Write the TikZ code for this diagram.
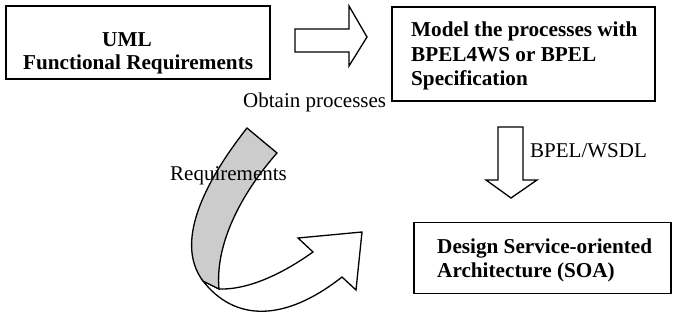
\documentclass[tikz,border=0pt]{standalone}
\usepackage{fontspec}
\setmainfont{Liberation Serif}
\begin{document}
\begin{tikzpicture}[x=1pt,y=-1pt,
  boxstyle/.style={draw=black,line width=1.6pt,inner sep=0pt,fill=white},
  blockarrow/.style={draw=black,line width=1.3pt,line join=miter,fill=white},
  bandstyle/.style={draw=black,line width=1.3pt,fill=black!20},
  boldtxt/.style={inner sep=0pt,anchor=base west,font=\fontsize{21.2}{24.5}\selectfont\bfseries},
  plaintxt/.style={inner sep=0pt,anchor=base west,font=\fontsize{21}{24}\selectfont}]
\useasboundingbox (0,0) rectangle (673,320);
% boxes
\node[boxstyle,minimum width=264pt,minimum height=73pt] (uml) at (138,42.5) {};
\node[boxstyle,minimum width=263pt,minimum height=94pt] (bpel) at (523.5,54) {};
\node[boxstyle,minimum width=257pt,minimum height=71pt] (soa) at (542.5,258) {};
% box texts
\node[boldtxt] (t1) at (102,47) {UML};
\node[boldtxt] (t2) at (23,70) {Functional Requirements};
\node[boldtxt] (t3) at (411,37) {Model the processes with};
\node[boldtxt] (t4) at (411,62) {BPEL4WS or BPEL};
\node[boldtxt] (t5) at (411,86) {Specification};
\node[boldtxt] (t6) at (437,254) {Design Service-oriented};
\node[boldtxt] (t7) at (437,278) {Architecture (SOA)};
% block arrows
\draw[blockarrow] (295,29) -- (349,29) -- (349,6) -- (367,37) -- (349,66) -- (349,52) -- (295,52) -- cycle;
\draw[blockarrow] (498,127) -- (523,127) -- (523,180) -- (537,180) -- (511,198) -- (486,180) -- (498,180) -- cycle;
% curved arrow: white part
\draw[blockarrow,line join=miter]
  (203,281) .. controls (235,322) and (285,322) .. (342,277)
  -- (356,290) -- (362,232) -- (298,238) -- (313,252)
  .. controls (285,272) and (250,290) .. (219,289) -- cycle;
% curved arrow: gray band
\draw[bandstyle,line join=miter]
  (247,128) -- (277,153) .. controls (240,195) and (215,245) .. (219,289)
  -- (203,281) .. controls (172,240) and (210,175) .. (247,128) -- cycle;
% labels
\node[plaintxt] (l1) at (243,108) {Obtain processes};
\node[plaintxt] (l2) at (530,158) {BPEL/WSDL};
\node[plaintxt] (l3) at (170,181) {Requirements};
\end{tikzpicture}
\end{document}
